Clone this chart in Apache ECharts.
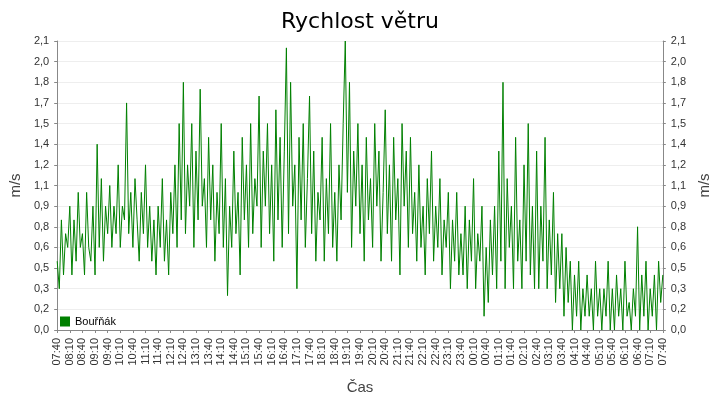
<!DOCTYPE html>
<html>
<head>
<meta charset="utf-8">
<script src="https://cdn.jsdelivr.net/npm/echarts@6/dist/echarts.min.js"></script>
<style>html,body{margin:0;background:#fff}#chart{width:720px;height:400px}</style>
</head>
<body>
<div id="chart"></div>
<script>
// 5-minute samples from 07:40 to 07:40 next day
const startMinutes = 7 * 60 + 40;
const windSpeed = [
  0.5,0.3,0.8,0.4,0.7,0.6,0.9,0.4,0.8,0.5,1.0,0.6,
  0.7,0.4,1.0,0.6,0.5,0.9,0.4,1.35,0.6,1.1,0.5,0.9,
  0.7,1.05,0.6,0.9,0.7,1.2,0.6,0.9,0.8,1.65,0.7,1.0,
  0.6,1.1,0.8,0.5,1.0,0.7,1.2,0.6,0.9,0.5,0.8,0.4,
  0.9,0.6,1.1,0.5,0.8,0.4,1.0,0.7,1.2,0.6,1.5,0.8,
  1.8,0.7,1.2,0.9,1.5,0.6,1.3,0.8,1.75,0.9,1.1,0.6,
  1.4,0.8,1.2,0.5,1.0,0.7,1.5,0.6,1.1,0.25,0.9,0.6,
  1.3,0.7,1.0,0.4,1.4,0.8,1.2,0.6,1.5,0.7,1.1,0.9,
  1.7,0.6,1.3,0.9,1.5,0.7,1.2,0.5,1.6,0.8,1.4,0.6,
  1.3,2.05,0.7,1.8,0.9,1.2,0.3,1.4,0.8,1.5,0.6,1.1,
  1.7,0.7,1.3,0.5,1.0,0.8,1.4,0.5,1.1,0.7,1.5,0.6,
  1.0,0.5,1.2,0.8,1.5,2.1,1.0,1.8,0.6,1.3,0.9,1.5,
  0.7,1.2,0.5,1.4,0.8,1.1,0.6,1.5,0.9,1.3,0.5,1.0,
  1.6,0.7,1.2,0.5,1.4,0.8,1.1,0.4,1.5,0.9,1.3,0.6,
  1.4,0.7,1.0,0.5,1.2,0.6,0.9,0.4,1.1,0.7,1.3,0.5,
  0.9,0.6,1.1,0.4,0.8,0.6,1.0,0.3,0.8,0.5,1.0,0.4,
  0.7,0.4,0.9,0.3,0.8,0.5,1.1,0.3,0.7,0.5,0.9,0.1,
  0.6,0.2,0.8,0.4,0.9,0.3,1.3,0.5,1.8,0.3,1.1,0.6,
  0.9,0.3,1.4,0.5,0.8,0.3,1.2,0.5,1.5,0.4,0.9,0.3,
  1.3,0.3,0.9,0.5,1.4,0.3,0.8,0.4,1.0,0.2,0.7,0.3,
  0.7,0.1,0.6,0.2,0.5,0.0,0.4,0.1,0.5,0.0,0.3,0.1,
  0.4,0.1,0.3,0.0,0.5,0.1,0.3,0.0,0.3,0.1,0.5,0.0,
  0.3,0.0,0.4,0.1,0.3,0.0,0.5,0.1,0.2,0.0,0.3,0.1,
  0.75,0.0,0.4,0.1,0.5,0.0,0.3,0.1,0.4,0.0,0.5,0.2,
  0.4
];
const times = windSpeed.map((_, i) => {
  const m = (startMinutes + i * 5) % 1440;
  return String(Math.floor(m / 60)).padStart(2, '0') + ':' + String(m % 60).padStart(2, '0');
});

const fmt = v => (Math.round(v * 10 + 0.001) / 10).toFixed(1).replace('.', ',');
const yAxisBase = {
  type: 'value', min: 0, max: 2.1, interval: 0.15,
  name: 'm/s', nameLocation: 'middle', nameGap: 32,
  nameTextStyle: { fontSize: 15, color: '#444' },
  axisLine: { show: true, lineStyle: { color: '#888' } },
  axisTick: { show: true, length: 3 },
  axisLabel: { formatter: fmt, fontSize: 11, color: '#333' },
  splitLine: { lineStyle: { color: '#eee' } }
};

const chart = echarts.init(document.getElementById('chart'));
chart.setOption({
  animation: false,
  title: { text: 'Rychlost větru', left: 'center', top: 6,
    textStyle: { fontSize: 22, fontWeight: 'normal', color: '#000', fontFamily: 'DejaVu Sans' } },
  grid: { left: 52, right: 52, top: 41, bottom: 69 },
  legend: { left: 55, top: 311, itemWidth: 10, itemHeight: 10, icon: 'rect',
    textStyle: { fontSize: 11, color: '#000' } },
  xAxis: {
    type: 'category', data: times, boundaryGap: false,
    name: 'Čas', nameLocation: 'middle', nameGap: 50,
    nameTextStyle: { fontSize: 15, color: '#444' },
    axisLine: { lineStyle: { color: '#888' } },
    axisTick: { interval: 5, length: 3 },
    axisLabel: { interval: 5, rotate: 90, fontSize: 11, color: '#333' }
  },
  yAxis: [yAxisBase, Object.assign({}, yAxisBase, { position: 'right' })],
  series: [{
    name: 'Bouřňák', type: 'line', data: windSpeed, showSymbol: false,
    lineStyle: { color: '#008000', width: 1 }, itemStyle: { color: '#008000' }
  }]
});
</script>
</body>
</html>
